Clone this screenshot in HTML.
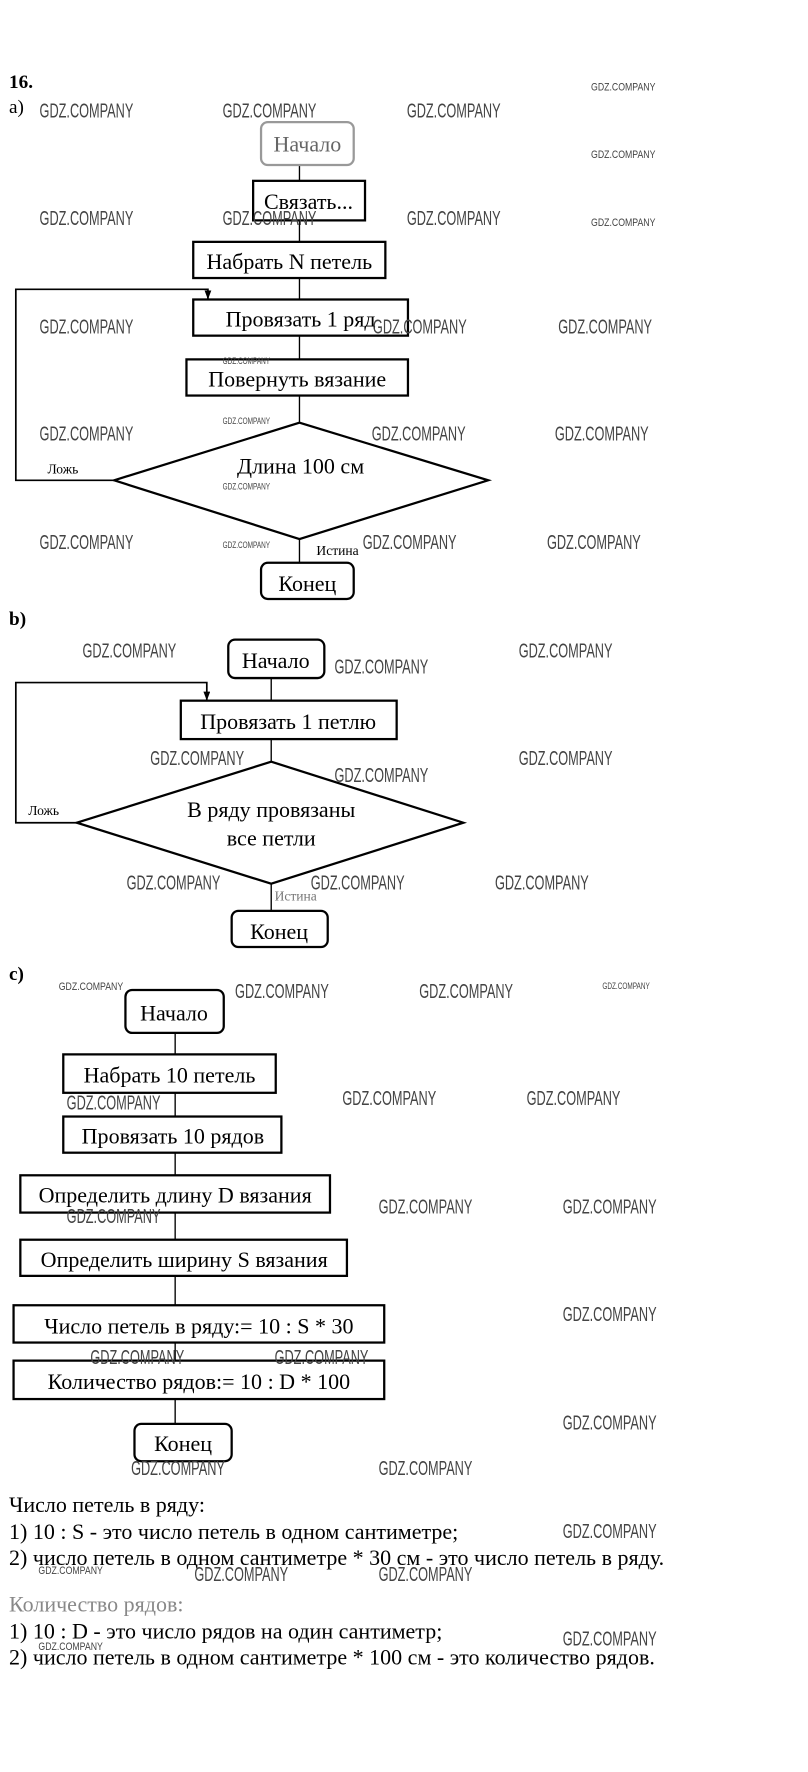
<!DOCTYPE html>
<html><head><meta charset="utf-8"><style>html,body{margin:0;padding:0;background:#fff}svg{display:block}</style></head>
<body>
<svg width="808" height="1772" viewBox="0 0 715 1568" xmlns="http://www.w3.org/2000/svg" font-family="'Liberation Serif','Noto Serif CJK SC',serif">
<defs><marker id="ar" markerUnits="userSpaceOnUse" markerWidth="8" markerHeight="8" refX="8" refY="3" orient="auto"><path d="M0,0 L8,3 L0,6z" fill="#000"/></marker></defs>
<g fill="none" stroke="#000" stroke-width="2">
<!-- a -->
<line x1="265" y1="146" x2="265" y2="498" stroke-width="1.2"/>
<rect x="231" y="108" width="82" height="38" rx="6" stroke="#999"/>
<rect x="224" y="160" width="99" height="35" fill="#fff"/>
<rect x="171" y="214" width="170" height="32" fill="#fff"/>
<rect x="171" y="265" width="190" height="32" fill="#fff"/>
<rect x="165" y="318" width="196" height="32" fill="#fff"/>
<polygon points="101,425 265,374 432,425 265,477" fill="#fff"/>
<rect x="231" y="498" width="82" height="32" rx="6" fill="#fff"/>
<polyline points="101,425 14,425 14,256 184,256 184,265" stroke-width="1.5" marker-end="url(#ar)"/>
<!-- b -->
<line x1="240" y1="600" x2="240" y2="806" stroke-width="1.2"/>
<rect x="202" y="566" width="85" height="34" rx="6" fill="#fff"/>
<rect x="160" y="620" width="191" height="34" fill="#fff"/>
<polygon points="68,728 240,674 410,728 240,782" fill="#fff"/>
<rect x="205" y="806" width="85" height="32" rx="6" fill="#fff"/>
<polyline points="68,728 14,728 14,604 183,604 183,620" stroke-width="1.5" marker-end="url(#ar)"/>
<!-- c -->
<line x1="155" y1="914" x2="155" y2="1260" stroke-width="1.2"/>
<rect x="111" y="876" width="87" height="38" rx="6" fill="#fff"/>
<rect x="56" y="933" width="188" height="34" fill="#fff"/>
<rect x="56" y="988" width="193" height="32" fill="#fff"/>
<rect x="18" y="1040" width="274" height="33" fill="#fff"/>
<rect x="18" y="1097" width="289" height="32" fill="#fff"/>
<rect x="12" y="1155" width="328" height="33" fill="#fff"/>
<rect x="12" y="1204" width="328" height="34" fill="#fff"/>
<rect x="119" y="1260" width="86" height="33" rx="6" fill="#fff"/>
</g>
<g font-size="19.5" fill="#000" text-anchor="middle">
<text x="272" y="134" fill="#666">Начало</text>
<text x="273" y="185">Связать...</text>
<text x="256" y="238">Набрать N петель</text>
<text x="266" y="289">Провязать 1 ряд</text>
<text x="263" y="342">Повернуть вязание</text>
<text x="266" y="419">Длина 100 см</text>
<text x="272" y="523">Конец</text>
<text x="244" y="591">Начало</text>
<text x="255" y="645">Провязать 1 петлю</text>
<text x="240" y="723">В ряду провязаны</text>
<text x="240" y="748">все петли</text>
<text x="247" y="831">Конец</text>
<text x="154" y="903">Начало</text>
<text x="150" y="958">Набрать 10 петель</text>
<text x="153" y="1012">Провязать 10 рядов</text>
<text x="155" y="1064">Определить длину D вязания</text>
<text x="163" y="1121">Определить ширину S вязания</text>
<text x="176" y="1180">Число петель в ряду:= 10 : S * 30</text>
<text x="176" y="1229">Количество рядов:= 10 : D * 100</text>
<text x="162" y="1284">Конец</text>
</g>
<g font-size="12" fill="#000">
<text x="42" y="419">Ложь</text>
<text x="280" y="491">Истина</text>
<text x="25" y="721">Ложь</text>
<text x="243" y="797" fill="#777">Истина</text>
</g>
<g font-size="17" font-weight="bold"><text x="8" y="78">16.</text></g>
<g font-size="17">
<text x="8" y="100">a)</text>
<text x="8" y="553" font-weight="bold">b)</text>
<text x="8" y="867" font-weight="bold">c)</text>
</g>
<g font-size="19.5">
<text x="8" y="1338">Число петель в ряду:</text>
<text x="8" y="1362">1) 10 : S - это число петель в одном сантиметре;</text>
<text x="8" y="1385">2) число петель в одном сантиметре * 30 см - это число петель в ряду.</text>
<text x="8" y="1426" fill="#888">Количество рядов:</text>
<text x="8" y="1450">1) 10 : D - это число рядов на один сантиметр;</text>
<text x="8" y="1473">2) число петель в одном сантиметре * 100 см - это количество рядов.</text>
</g>
<g font-family="'Liberation Sans',sans-serif" fill="#444" font-size="18">
<text x="35" y="104" textLength="83" lengthAdjust="spacingAndGlyphs">GDZ.COMPANY</text>
<text x="197" y="104" textLength="83" lengthAdjust="spacingAndGlyphs">GDZ.COMPANY</text>
<text x="360" y="104" textLength="83" lengthAdjust="spacingAndGlyphs">GDZ.COMPANY</text>
<text x="35" y="199" textLength="83" lengthAdjust="spacingAndGlyphs">GDZ.COMPANY</text>
<text x="197" y="199" textLength="83" lengthAdjust="spacingAndGlyphs">GDZ.COMPANY</text>
<text x="360" y="199" textLength="83" lengthAdjust="spacingAndGlyphs">GDZ.COMPANY</text>
<text x="35" y="295" textLength="83" lengthAdjust="spacingAndGlyphs">GDZ.COMPANY</text>
<text x="330" y="295" textLength="83" lengthAdjust="spacingAndGlyphs">GDZ.COMPANY</text>
<text x="494" y="295" textLength="83" lengthAdjust="spacingAndGlyphs">GDZ.COMPANY</text>
<text x="35" y="390" textLength="83" lengthAdjust="spacingAndGlyphs">GDZ.COMPANY</text>
<text x="329" y="390" textLength="83" lengthAdjust="spacingAndGlyphs">GDZ.COMPANY</text>
<text x="491" y="390" textLength="83" lengthAdjust="spacingAndGlyphs">GDZ.COMPANY</text>
<text x="35" y="486" textLength="83" lengthAdjust="spacingAndGlyphs">GDZ.COMPANY</text>
<text x="321" y="486" textLength="83" lengthAdjust="spacingAndGlyphs">GDZ.COMPANY</text>
<text x="484" y="486" textLength="83" lengthAdjust="spacingAndGlyphs">GDZ.COMPANY</text>
<text x="73" y="582" textLength="83" lengthAdjust="spacingAndGlyphs">GDZ.COMPANY</text>
<text x="296" y="596" textLength="83" lengthAdjust="spacingAndGlyphs">GDZ.COMPANY</text>
<text x="459" y="582" textLength="83" lengthAdjust="spacingAndGlyphs">GDZ.COMPANY</text>
<text x="133" y="677" textLength="83" lengthAdjust="spacingAndGlyphs">GDZ.COMPANY</text>
<text x="296" y="692" textLength="83" lengthAdjust="spacingAndGlyphs">GDZ.COMPANY</text>
<text x="459" y="677" textLength="83" lengthAdjust="spacingAndGlyphs">GDZ.COMPANY</text>
<text x="112" y="787" textLength="83" lengthAdjust="spacingAndGlyphs">GDZ.COMPANY</text>
<text x="275" y="787" textLength="83" lengthAdjust="spacingAndGlyphs">GDZ.COMPANY</text>
<text x="438" y="787" textLength="83" lengthAdjust="spacingAndGlyphs">GDZ.COMPANY</text>
<text x="208" y="883" textLength="83" lengthAdjust="spacingAndGlyphs">GDZ.COMPANY</text>
<text x="371" y="883" textLength="83" lengthAdjust="spacingAndGlyphs">GDZ.COMPANY</text>
<text x="59" y="982" textLength="83" lengthAdjust="spacingAndGlyphs">GDZ.COMPANY</text>
<text x="303" y="978" textLength="83" lengthAdjust="spacingAndGlyphs">GDZ.COMPANY</text>
<text x="466" y="978" textLength="83" lengthAdjust="spacingAndGlyphs">GDZ.COMPANY</text>
<text x="59" y="1082" textLength="83" lengthAdjust="spacingAndGlyphs">GDZ.COMPANY</text>
<text x="335" y="1074" textLength="83" lengthAdjust="spacingAndGlyphs">GDZ.COMPANY</text>
<text x="498" y="1074" textLength="83" lengthAdjust="spacingAndGlyphs">GDZ.COMPANY</text>
<text x="498" y="1169" textLength="83" lengthAdjust="spacingAndGlyphs">GDZ.COMPANY</text>
<text x="80" y="1207" textLength="83" lengthAdjust="spacingAndGlyphs">GDZ.COMPANY</text>
<text x="243" y="1207" textLength="83" lengthAdjust="spacingAndGlyphs">GDZ.COMPANY</text>
<text x="498" y="1265" textLength="83" lengthAdjust="spacingAndGlyphs">GDZ.COMPANY</text>
<text x="116" y="1305" textLength="83" lengthAdjust="spacingAndGlyphs">GDZ.COMPANY</text>
<text x="335" y="1305" textLength="83" lengthAdjust="spacingAndGlyphs">GDZ.COMPANY</text>
<text x="498" y="1361" textLength="83" lengthAdjust="spacingAndGlyphs">GDZ.COMPANY</text>
<text x="172" y="1399" textLength="83" lengthAdjust="spacingAndGlyphs">GDZ.COMPANY</text>
<text x="335" y="1399" textLength="83" lengthAdjust="spacingAndGlyphs">GDZ.COMPANY</text>
<text x="498" y="1456" textLength="83" lengthAdjust="spacingAndGlyphs">GDZ.COMPANY</text>
</g>
<g font-family="'Liberation Sans',sans-serif" fill="#444" font-size="10">
<text x="523" y="80" textLength="57" lengthAdjust="spacingAndGlyphs">GDZ.COMPANY</text>
<text x="523" y="140" textLength="57" lengthAdjust="spacingAndGlyphs">GDZ.COMPANY</text>
<text x="523" y="200" textLength="57" lengthAdjust="spacingAndGlyphs">GDZ.COMPANY</text>
<text x="197" y="322" textLength="42" lengthAdjust="spacingAndGlyphs" font-size="8">GDZ.COMPANY</text>
<text x="197" y="375" textLength="42" lengthAdjust="spacingAndGlyphs" font-size="8">GDZ.COMPANY</text>
<text x="197" y="433" textLength="42" lengthAdjust="spacingAndGlyphs" font-size="8">GDZ.COMPANY</text>
<text x="197" y="485" textLength="42" lengthAdjust="spacingAndGlyphs" font-size="8">GDZ.COMPANY</text>
<text x="52" y="876" textLength="57" lengthAdjust="spacingAndGlyphs">GDZ.COMPANY</text>
<text x="533" y="875" textLength="42" lengthAdjust="spacingAndGlyphs" font-size="8">GDZ.COMPANY</text>
<text x="34" y="1393" textLength="57" lengthAdjust="spacingAndGlyphs">GDZ.COMPANY</text>
<text x="34" y="1460" textLength="57" lengthAdjust="spacingAndGlyphs">GDZ.COMPANY</text>
</g>
</svg>
</body></html>
